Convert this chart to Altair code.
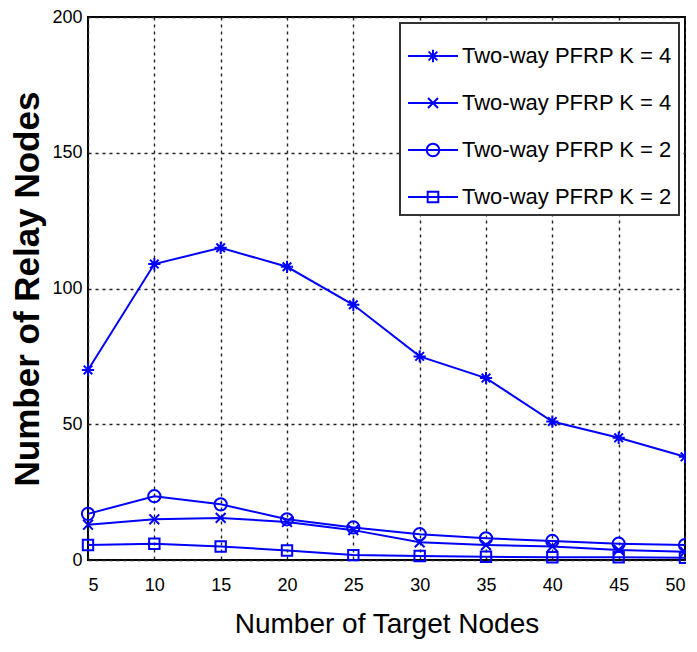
import altair as alt
import pandas as pd

# ---- data ----
target_nodes = [5, 10, 15, 20, 25, 30, 35, 40, 45, 50]
series_keys = ["s1", "s2", "s3", "s4"]
series_labels = ["Two-way PFRP K = 4", "Two-way PFRP K = 4",
                 "Two-way PFRP K = 2", "Two-way PFRP K = 2"]
s1_star = [70, 109, 115, 108, 94, 75, 67, 51, 45, 38]
s2_x = [13, 15, 15.5, 14, 11, 6.5, 5.5, 5, 3.7, 3]
s3_circle = [17, 23.5, 20.5, 15, 12, 9.5, 8, 7, 6, 5.5]
s4_square = [5.5, 6, 5, 3.5, 1.8, 1.5, 1.2, 1, 1, 0.8]
x_ticks = [5, 10, 15, 20, 25, 30, 35, 40, 45, 50]
y_ticks = [0, 50, 100, 150, 200]

values = [s1_star, s2_x, s3_circle, s4_square]
rows = []
for key, vals in zip(series_keys, values):
    for xv, yv in zip(target_nodes, vals):
        rows.append({"series": key, "x": xv, "y": yv})
df = pd.DataFrame(rows)

BLUE = "#0000ff"

# marker shapes (unit paths)
marker_paths = {
    "s1": "M-1,0H1M0,-1V1M-0.7,-0.7L0.7,0.7M-0.7,0.7L0.7,-0.7",
    "s2": "M-0.8,-0.8L0.8,0.8M-0.8,0.8L0.8,-0.8",
    "s3": "M1,0A1,1 0 1,1 -1,0A1,1 0 1,1 1,0Z",
    "s4": "M-0.85,-0.85H0.85V0.85H-0.85Z",
}
r = 0.25
legend_paths = [
    f"M-1,0H1M{-r},0H{r}M0,{-r}V{r}M{-0.7*r},{-0.7*r}L{0.7*r},{0.7*r}M{-0.7*r},{0.7*r}L{0.7*r},{-0.7*r}",
    f"M-1,0H1M{-0.8*r},{-0.8*r}L{0.8*r},{0.8*r}M{-0.8*r},{0.8*r}L{0.8*r},{-0.8*r}",
    f"M-1,0H1M{r},0A{r},{r} 0 1,1 {-r},0A{r},{r} 0 1,1 {r},0Z",
    f"M-1,0H1M{-0.85*r},{-0.85*r}H{0.85*r}V{0.85*r}H{-0.85*r}Z",
]

label_expr = ("datum.label == 's1' ? '%s' : datum.label == 's2' ? '%s' : "
              "datum.label == 's3' ? '%s' : '%s'") % tuple(series_labels)

x_enc = alt.X("x:Q", scale=alt.Scale(domain=[5, 50], nice=False),
              axis=alt.Axis(values=x_ticks, title="Number of Target Nodes"))
y_enc = alt.Y("y:Q", scale=alt.Scale(domain=[0, 200], nice=False),
              axis=alt.Axis(values=y_ticks, title="Number of Relay Nodes"))

base = alt.Chart(df)

lines = base.mark_line(color=BLUE, strokeWidth=2).encode(
    x=x_enc, y=y_enc, detail="series:N"
)

point_layers = []
for key in series_keys:
    point_layers.append(
        base.transform_filter(alt.datum.series == key).mark_point(
            shape=marker_paths[key], size=150, filled=False,
            color=BLUE, strokeWidth=2, opacity=1
        ).encode(x=x_enc, y=y_enc)
    )

legend_layer = base.transform_filter("false").mark_point(
    filled=False, color=BLUE, strokeWidth=2, size=2500, opacity=1
).encode(
    x=x_enc, y=y_enc,
    shape=alt.Shape("series:N",
                    scale=alt.Scale(domain=series_keys, range=legend_paths),
                    legend=alt.Legend(
                        title=None, orient="top-right", offset=6,
                        labelExpr=label_expr, labelFontSize=22,
                        labelFont="Liberation Sans", labelColor="black",
                        labelOffset=3, symbolSize=2500, symbolStrokeWidth=2,
                        symbolStrokeColor=BLUE, symbolFillColor="transparent",
                        symbolOpacity=1, rowPadding=10,
                        padding=7, strokeColor="#333", fillColor="white",
                        labelLimit=400)),
)

chart = alt.layer(lines, *point_layers, legend_layer).properties(
    width=597, height=543,
    autosize=alt.AutoSizeParams(type="none"),
    padding={"left": 80, "top": 9, "right": 1, "bottom": 84},
).configure_view(
    stroke="black", strokeWidth=2
).configure_axis(
    domain=False, ticks=False,
    grid=True, gridColor="#222", gridDash=[3, 4], gridWidth=1.4, gridOpacity=1,
    labelFont="Liberation Sans", labelFontSize=18, labelColor="black",
    titleFont="Liberation Sans", titleColor="black",
).configure_axisX(
    labelPadding=16, titleFontSize=28, titleFontWeight="normal", titlePadding=16
).configure_axisY(
    labelPadding=6, titleFontSize=35, titleFontWeight="bold", titlePadding=6
).configure_legend(
    strokeWidth=2
)

chart.save("out.html", embed_options={"renderer": "svg", "actions": False})
